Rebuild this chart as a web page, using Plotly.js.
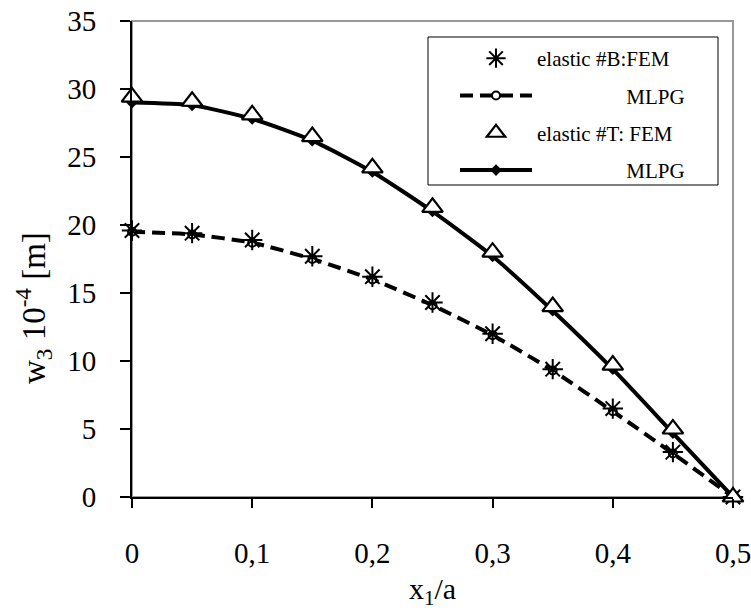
<!DOCTYPE html>
<html>
<head>
<meta charset="utf-8">
<script src="https://cdn.plot.ly/plotly-3.0.1.min.js"></script>
<style>html,body{margin:0;padding:0;background:#fff;}#chart{width:751px;height:611px;}</style>
</head>
<body>
<div id="chart"></div>
<script>
// x1/a positions
var xPos = [0, 0.05, 0.1, 0.15, 0.2, 0.25, 0.3, 0.35, 0.4, 0.45, 0.5];
// elastic #B
var bFEM  = [19.6, 19.4, 18.9, 17.7, 16.2, 14.3, 12.0, 9.4, 6.5, 3.3, 0];
var bMLPG = [19.5, 19.3, 18.7, 17.5, 16.0, 14.1, 11.9, 9.3, 6.3, 3.2, 0];
// elastic #T
var tFEM  = [29.4, 29.1, 28.1, 26.5, 24.2, 21.3, 18.0, 14.0, 9.7, 5.0, 0];
var tMLPG = [29.0, 28.8, 27.8, 26.2, 23.9, 21.0, 17.7, 13.7, 9.4, 4.7, 0];
// tick labels
var xTicks = [0, 0.1, 0.2, 0.3, 0.4, 0.5];
var yTicks = [0, 5, 10, 15, 20, 25, 30, 35];
var names = ['elastic #B:FEM', 'MLPG', 'elastic #T: FEM', 'MLPG'];

var pad = '\u00a0'.repeat(17);
var serif = 'Liberation Serif, Times New Roman, serif';

var traces = [
  {x: xPos, y: bMLPG, name: pad + names[1], mode: 'lines+markers', type: 'scatter',
   line: {color: '#000', width: 4, dash: '13px,7px', shape: 'spline', smoothing: 0.6},
   marker: {symbol: 'circle', size: 8, color: '#fff', line: {color: '#000', width: 2}},
   cliponaxis: false, legendrank: 2, legendgroup: 'g2'},
  {x: xPos, y: tMLPG, name: pad + names[3], mode: 'lines+markers', type: 'scatter',
   line: {color: '#000', width: 4, shape: 'spline', smoothing: 0.6},
   marker: {symbol: 'diamond', size: 9, color: '#000'},
   cliponaxis: false, legendrank: 4, legendgroup: 'g4'},
  {x: xPos, y: bFEM, name: names[0], mode: 'markers', type: 'scatter',
   marker: {symbol: 'asterisk-open', size: 17, color: '#000', line: {color: '#000', width: 2}},
   cliponaxis: false, legendrank: 1, legendgroup: 'g1'},
  {x: xPos, y: tFEM, name: names[2], mode: 'markers', type: 'scatter',
   marker: {symbol: 'triangle-up', size: 18, color: '#fff', line: {color: '#000', width: 2.2}},
   cliponaxis: false, legendrank: 3, legendgroup: 'g3'}
];

function px2x(p){ return (p - 132) / 601; }
function px2y(p){ return (497 - p) / 476; }

var layout = {
  width: 751, height: 611,
  margin: {l: 132, r: 18, t: 21, b: 114},
  paper_bgcolor: '#fff', plot_bgcolor: '#fff',
  separators: ', ',
  font: {family: serif, color: '#000'},
  showlegend: true,
  legend: {
    x: px2x(455), y: px2y(38), xanchor: 'left', yanchor: 'top',
    bgcolor: 'rgba(0,0,0,0)', borderwidth: 0,
    font: {family: serif, size: 21, color: '#000'},
    itemwidth: 72, traceorder: 'grouped', tracegroupgap: 7
  },
  xaxis: {
    range: [0, 0.5], tickvals: xTicks, showgrid: false, zeroline: false,
    showline: true, linecolor: '#000', linewidth: 2,
    ticks: 'outside', ticklen: 9, tickwidth: 2, tickcolor: '#000',
    tickfont: {family: serif, size: 29, color: '#000'}, ticklabelstandoff: 20,
    ticklabeloverflow: 'allow',
    title: {text: 'x<sub>1</sub>/a', font: {family: serif, size: 30, color: '#000'}, standoff: 10}
  },
  yaxis: {
    range: [0, 35], tickvals: yTicks, showgrid: false, zeroline: false,
    showline: true, linecolor: '#000', linewidth: 2,
    ticks: 'outside', ticklen: 10, tickwidth: 2, tickcolor: '#000',
    tickfont: {family: serif, size: 29, color: '#000'}, ticklabelstandoff: 18,
    title: {text: ''}
  },
  shapes: [
    {type: 'rect', xref: 'paper', yref: 'paper', x0: 0, x1: 1, y0: 0, y1: 1,
     line: {color: '#999', width: 2}, layer: 'below'},
    {type: 'rect', xref: 'paper', yref: 'paper', x0: px2x(428), x1: px2x(718), y0: px2y(185), y1: px2y(37),
     line: {color: '#000', width: 1}, fillcolor: '#fff', layer: 'above'}
  ],
  annotations: [
    {text: 'w<sub>3</sub> 10<sup>-4</sup> [m]', textangle: -90, xref: 'paper', yref: 'paper',
     x: px2x(33), y: px2y(308), xanchor: 'center', yanchor: 'middle', showarrow: false,
     font: {family: serif, size: 33, color: '#000'}}
  ]
};

Plotly.newPlot('chart', traces, layout, {displayModeBar: false, staticPlot: true});
</script>
</body>
</html>
